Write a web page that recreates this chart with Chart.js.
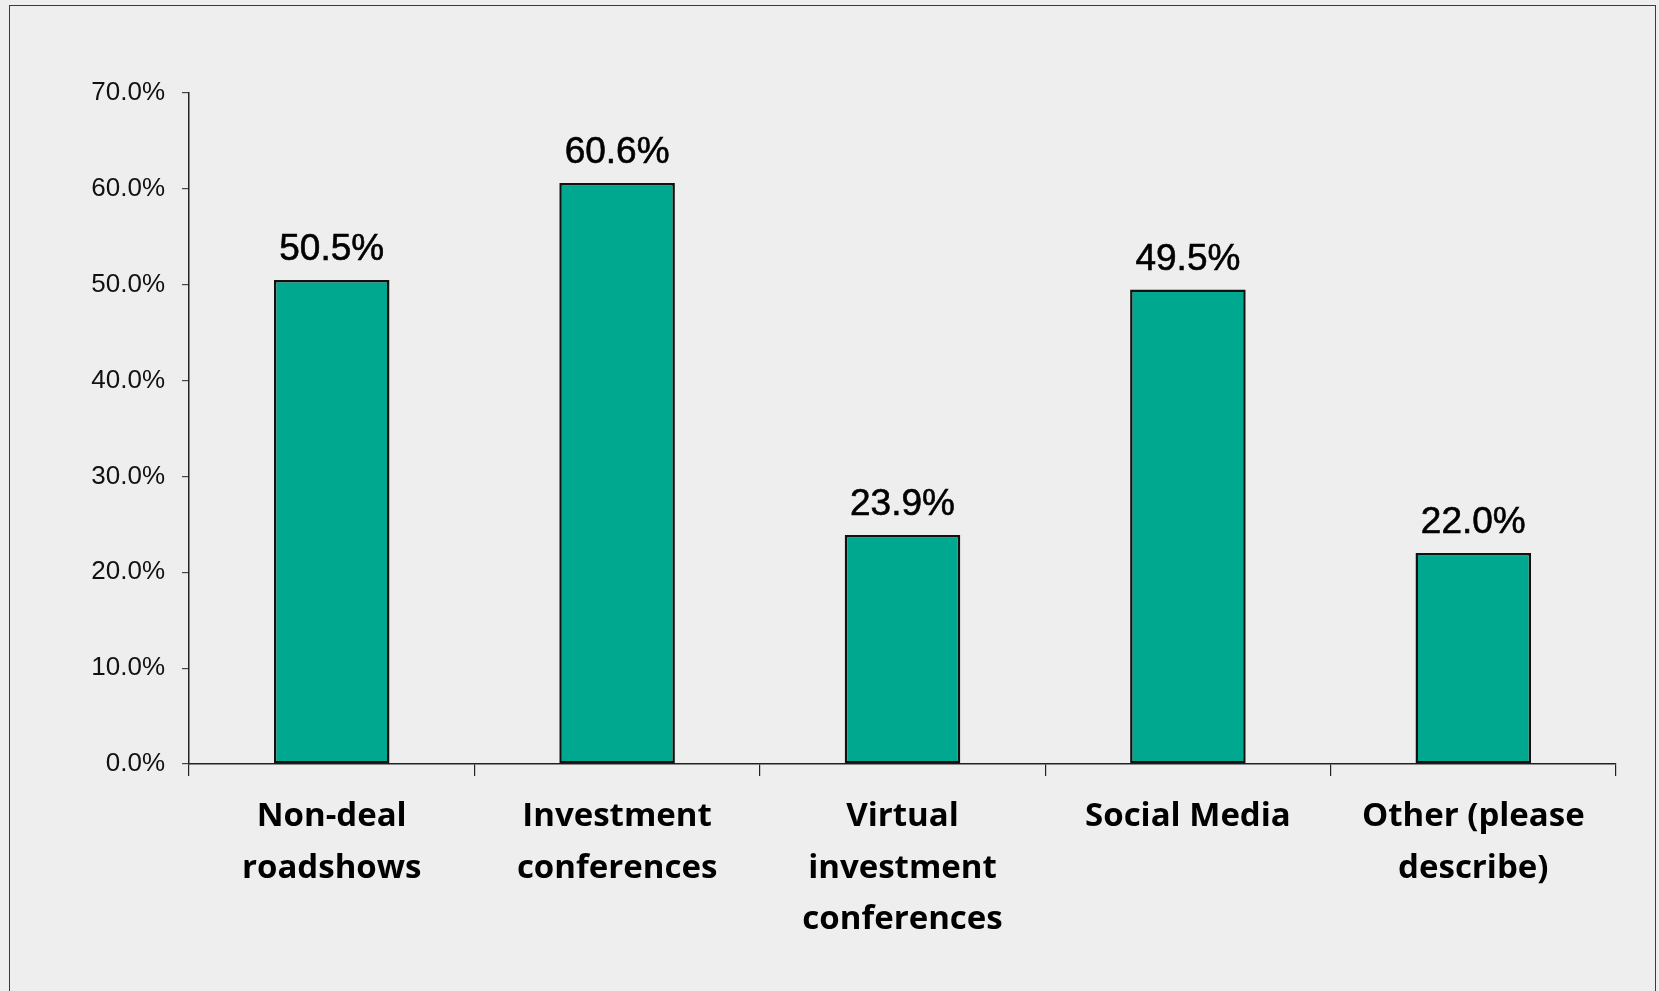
<!DOCTYPE html>
<html>
<head>
<meta charset="utf-8">
<script src="https://cdn.jsdelivr.net/npm/chart.js@4/dist/chart.umd.min.js"></script>
<style>
  html, body { margin: 0; padding: 0; background: #eeeeee; }
  #wrap { position: relative; width: 1659px; height: 991px; overflow: hidden; }
  #frame { position: absolute; left: 9px; top: 5px; width: 1645px; height: 1000px; border: 1.5px solid #3a3a3a; }
  canvas { position: absolute; left: 0; top: 0; }
</style>
</head>
<body>
<div id="wrap">
  <div id="frame"></div>
  <canvas id="myChart" width="1659" height="991"></canvas>
</div>
<script>
const categories = [
    ['Non-deal', 'roadshows'],
    ['Investment', 'conferences'],
    ['Virtual', 'investment', 'conferences'],
    ['Social Media'],
    ['Other (please', 'describe)']
];
const shares = [50.5, 60.6, 23.9, 49.5, 22.0];
const yTicks = [0, 10, 20, 30, 40, 50, 60, 70];

// valores encima de cada barra
const barValues = {
    id: 'barValues',
    afterDatasetsDraw(chart) {
        const ctx = chart.ctx;
        const meta = chart.getDatasetMeta(0);
        ctx.save();
        ctx.font = '37px "Liberation Sans", Arial, sans-serif';
        ctx.fillStyle = '#000';
        ctx.strokeStyle = '#000';
        ctx.lineWidth = 0.6;
        ctx.textAlign = 'center';
        ctx.textBaseline = 'alphabetic';
        meta.data.forEach((bar, i) => {
            const v = chart.data.datasets[0].data[i];
            const txt = v.toFixed(1) + '%';
            ctx.fillText(txt, bar.x, bar.y - 20);
            ctx.strokeText(txt, bar.x, bar.y - 20);
        });
        ctx.restore();
    }
};

const ctx = document.getElementById('myChart').getContext('2d');
const myChart = new Chart(ctx, {
    type: 'bar',
    data: {
        labels: categories,
        datasets: [{
            data: shares,
            backgroundColor: '#00a88f',
            borderColor: '#111111',
            borderWidth: 2.5,
            borderSkipped: false,
            barPercentage: 0.81,
            categoryPercentage: 0.5
        }]
    },
    options: {
        responsive: false,
        animation: false,
        layout: {
            padding: { top: 93, right: 43, left: 0, bottom: 0 }
        },
        plugins: {
            legend: { display: false },
            tooltip: { enabled: false }
        },
        scales: {
            x: {
                grid: {
                    offset: true,
                    drawOnChartArea: false,
                    tickLength: 12,
                    color: '#222',
                    lineWidth: 1.2
                },
                border: { color: '#222', width: 1.5 },
                ticks: {
                    color: '#000',
                    padding: 15,
                    maxRotation: 0,
                    autoSkip: false,
                    font: { family: '"Open Sans", "Noto Sans", sans-serif', size: 33, weight: 'bold', lineHeight: 1.56 }
                },
                afterFit(scale) { scale.height = 991 - 764; }
            },
            y: {
                min: 0,
                max: 70,
                afterBuildTicks(scale) {
                    scale.ticks = yTicks.map(v => ({ value: v }));
                },
                grid: {
                    drawOnChartArea: false,
                    tickLength: 7,
                    color: '#444',
                    lineWidth: 1.2
                },
                border: { color: '#222', width: 1.5 },
                ticks: {
                    color: '#111',
                    padding: 17,
                    font: { family: '"Liberation Sans", Arial, sans-serif', size: 26 },
                    callback: v => v.toFixed(1) + '%'
                },
                afterFit(scale) { scale.width = 189; }
            }
        }
    },
    plugins: [barValues]
});
</script>
</body>
</html>
